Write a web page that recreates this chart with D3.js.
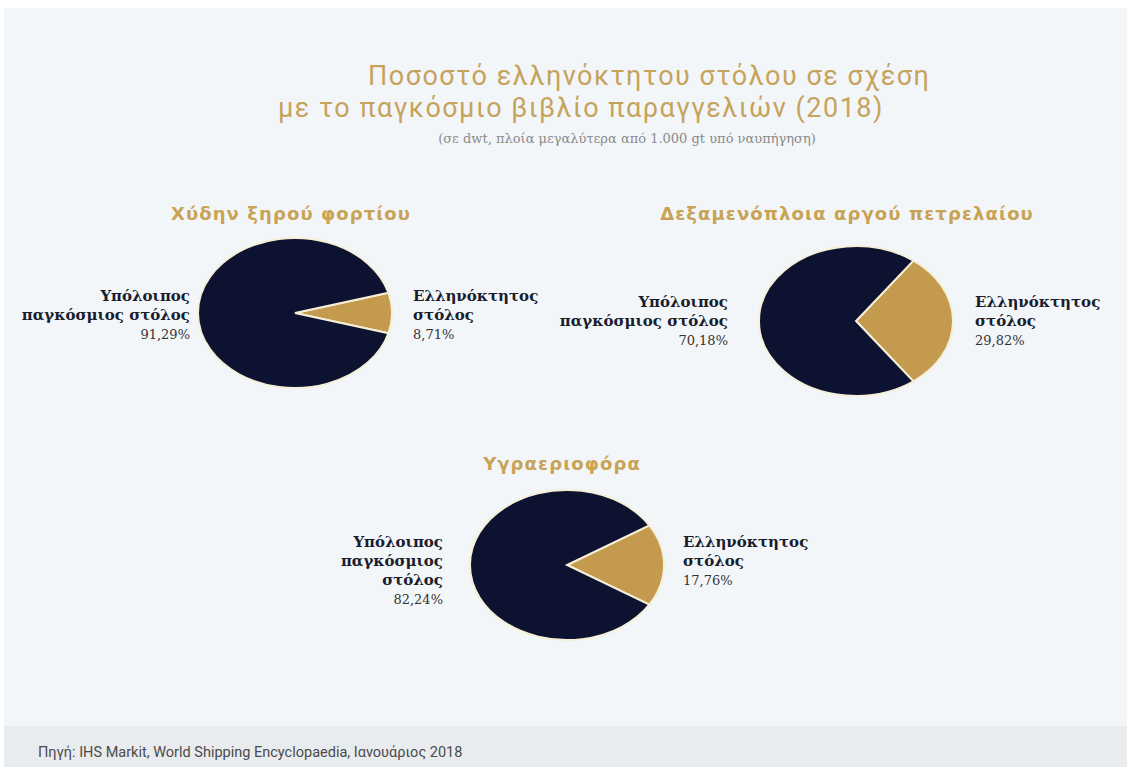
<!DOCTYPE html>
<html>
<head>
<meta charset="utf-8">
<script src="https://cdn.jsdelivr.net/npm/d3@7"></script>
<style>
  html, body { margin: 0; padding: 0; background: #ffffff; }
  svg { display: block; }
</style>
</head>
<body>
<svg id="chart" width="1127" height="767"></svg>
<script>
// Fleet segments and shares (% of the global orderbook, dwt)
const categories = ["Χύδην ξηρού φορτίου", "Δεξαμενόπλοια αργού πετρελαίου", "Υγραεριοφόρα"];
const greekShare = [8.71, 29.82, 17.76];
const restShare  = [91.29, 70.18, 82.24];
const greekLabel = ["Ελληνόκτητος", "στόλος"];
const restLabels = [
  ["Υπόλοιπος", "παγκόσμιος στόλος"],
  ["Υπόλοιπος", "παγκόσμιος στόλος"],
  ["Υπόλοιπος", "παγκόσμιος", "στόλος"]
];
const titleLines = ["Ποσοστό ελληνόκτητου στόλου σε σχέση", "με το παγκόσμιο βιβλίο παραγγελιών (2018)"];
const subtitle = "(σε dwt, πλοία μεγαλύτερα από 1.000 gt υπό ναυπήγηση)";
const source = "Πηγή: IHS Markit, World Shipping Encyclopaedia, Ιανουάριος 2018";

const W = 1127, H = 767;
const svg = d3.select("#chart");
const fmt = v => d3.format(".2f")(v).replace(".", ",") + "%";

// Backgrounds: page panel and source strip
svg.append("rect").attr("x", 4).attr("y", 8).attr("width", W - 4).attr("height", 718).attr("fill", "#f3f6f9");
svg.append("rect").attr("x", 4).attr("y", 726).attr("width", W - 4).attr("height", H - 726).attr("fill", "#e9ecef");

// Main title
const gold = "#c6a35c";
svg.append("text").attr("x", 368).attr("y", 85)
  .attr("font-family", "Roboto, 'Open Sans', sans-serif").attr("font-weight", 400)
  .attr("font-size", 27).attr("letter-spacing", 1.5).attr("fill", gold).text(titleLines[0]);
svg.append("text").attr("x", 278).attr("y", 117)
  .attr("font-family", "Roboto, 'Open Sans', sans-serif").attr("font-weight", 400)
  .attr("font-size", 27).attr("letter-spacing", 1.5).attr("fill", gold).text(titleLines[1]);
svg.append("text").attr("x", 627).attr("y", 143).attr("text-anchor", "middle")
  .attr("font-family", "'DejaVu Serif', 'Liberation Serif', serif")
  .attr("font-size", 13).attr("fill", "#8a8a8a").text(subtitle);

// Layout of the three pies
const layout = [
  { cx: 295, cy: 313, tx: 291, ty: 220, lx: 190, rx: 413, ly: 301 },
  { cx: 856, cy: 321, tx: 847, ty: 220, lx: 728, rx: 975, ly: 307 },
  { cx: 567, cy: 565, tx: 562, ty: 470, lx: 443, rx: 683, ly: 547 }
];
const R = 75, stretchX = 97 / 75;
const colors = { greek: "#c39a4e", rest: "#0c1230" };
const arc = d3.arc().innerRadius(0).outerRadius(R);

categories.forEach((cat, i) => {
  const L = layout[i];
  const data = [
    { key: "greek", value: greekShare[i] },
    { key: "rest", value: restShare[i] }
  ];
  // Greek-owned wedge centred on the 3 o'clock direction
  const span = 2 * Math.PI * greekShare[i] / (greekShare[i] + restShare[i]);
  const start = Math.PI / 2 - span / 2;
  const pie = d3.pie().sort(null).value(d => d.value)
    .startAngle(start).endAngle(start + 2 * Math.PI);

  const g = svg.append("g")
    .attr("transform", `translate(${L.cx},${L.cy}) scale(${stretchX},1)`);
  g.selectAll("path").data(pie(data)).join("path")
    .attr("d", arc)
    .attr("fill", d => colors[d.data.key])
    .attr("stroke", "#f6efd8")
    .attr("stroke-width", 2)
    .attr("vector-effect", "non-scaling-stroke");

  // Segment title
  svg.append("text").attr("x", L.tx).attr("y", L.ty).attr("text-anchor", "middle")
    .attr("font-family", "'DejaVu Sans', Verdana, sans-serif").attr("font-weight", "bold")
    .attr("font-size", 18).attr("letter-spacing", 1.1).attr("fill", "#c9a355").text(cat);

  const lineH = 19;
  // Left label: rest of the world fleet
  const left = svg.append("text").attr("text-anchor", "end")
    .attr("font-family", "'DejaVu Serif', 'Liberation Serif', serif");
  restLabels[i].forEach((t, k) => {
    left.append("tspan").attr("x", L.lx).attr("y", L.ly + k * lineH)
      .attr("font-size", 15).attr("font-weight", "bold").attr("fill", "#1a1d2e").text(t);
  });
  left.append("tspan").attr("x", L.lx).attr("y", L.ly + restLabels[i].length * lineH)
    .attr("font-size", 13).attr("fill", "#333333").text(fmt(restShare[i]));

  // Right label: Greek-owned fleet
  const right = svg.append("text").attr("text-anchor", "start")
    .attr("font-family", "'DejaVu Serif', 'Liberation Serif', serif");
  greekLabel.forEach((t, k) => {
    right.append("tspan").attr("x", L.rx).attr("y", L.ly + k * lineH)
      .attr("font-size", 15).attr("font-weight", "bold").attr("fill", "#1a1d2e").text(t);
  });
  right.append("tspan").attr("x", L.rx).attr("y", L.ly + greekLabel.length * lineH)
    .attr("font-size", 13).attr("fill", "#333333").text(fmt(greekShare[i]));
});

// Source line
svg.append("text").attr("x", 38).attr("y", 757)
  .attr("font-family", "Roboto, 'Open Sans', sans-serif").attr("font-size", 14.5)
  .attr("fill", "#4a4a4a").text(source);
</script>
</body>
</html>
